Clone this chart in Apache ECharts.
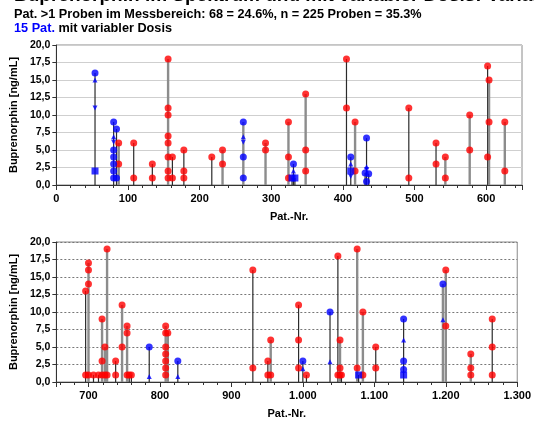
<!DOCTYPE html>
<html>
<head>
<meta charset="utf-8">
<script src="https://cdn.jsdelivr.net/npm/echarts@6/dist/echarts.min.js"></script>
<style>
  html, body { margin: 0; padding: 0; background: #fff; }
  #chart { width: 534px; height: 423px; }
</style>
</head>
<body>
<div id="chart"></div>
<script>
// upper panel: patients 0..650
const topRed = [
  [87, 6], [87, 3], [108, 6], [108, 1], [134, 3], [134, 1],
  [156, 18], [156, 11], [156, 10], [156, 7], [156, 6], [156, 4], [156, 2], [156, 1],
  [162, 4], [162, 1], [178, 5], [178, 2], [178, 1], [217, 4], [232, 5], [232, 3],
  [292, 6], [292, 5], [324, 9], [324, 4], [324, 1], [348, 13], [348, 5], [348, 2],
  [405, 18], [405, 11], [417, 9], [417, 2], [492, 11], [492, 1], [530, 6], [530, 3],
  [543, 4], [543, 1], [577, 10], [577, 5], [602, 17], [602, 4], [604, 15], [604, 9],
  [626, 9], [626, 2]
];
const topBlue = [
  [54, 16], [80, 9], [80, 5], [80, 4], [80, 3], [80, 2], [80, 1], [84, 8], [84, 1],
  [261, 9], [261, 4], [261, 1], [331, 3], [411, 4],
  [433, 6.7], [431, 1.7], [436, 1.6], [433, 0.5]
];
const topBlueUp = [[54, 15], [80, 6.9], [261, 6.9], [331, 2], [411, 3], [433, 2.6]];
const topBlueDown = [[54, 11], [80, 6.1], [261, 6.1], [411, 1.2], [433, 2.2]];
const topBlueSquare = [[54, 2], [329, 1], [333, 1], [411, 2]];
const topGrayStems = [87, 156, 232, 261, 292, 324, 348, 417, 543, 577, 604, 626];

// lower panel: patients 655..1300
const bottomRed = [
  [696, 13], [696, 1], [700, 17], [700, 16], [700, 14], [700, 1], [707, 1], [714, 1],
  [719, 9], [719, 3], [719, 1], [723, 5], [723, 1], [726, 19], [726, 1], [738, 3], [738, 1],
  [747, 11], [747, 5], [754, 8], [754, 7], [754, 1], [757, 1], [760, 1],
  [808, 8], [808, 7], [808, 5], [808, 4], [808, 3], [808, 2], [808, 1], [811, 7],
  [930, 16], [930, 2], [951, 3], [951, 1], [955, 6], [955, 1], [994, 11], [994, 6], [994, 2],
  [1005, 1], [1049, 18], [1049, 1], [1052, 6], [1052, 2], [1052, 1], [1054, 1],
  [1076, 19], [1076, 2], [1084, 10], [1084, 1], [1102, 5], [1102, 2],
  [1200, 16], [1200, 8], [1235, 4], [1235, 2], [1235, 1], [1265, 9], [1265, 5], [1265, 1]
];
const bottomBlue = [[785, 5], [825, 3], [1000, 3], [1038, 10], [1141, 9], [1141, 3], [1141, 1.8], [1196, 14]];
const bottomBlueUp = [[785, 0.8], [825, 0.8], [1000, 1.9], [1038, 2.9], [1141, 6], [1196, 8.9]];
const bottomBlueDown = [];
const bottomBlueSquare = [[1078, 1], [1141, 1]];
const bottomGrayStems = [700, 719, 723, 726, 747, 754, 808, 811, 955, 1052, 1076, 1084, 1196, 1200, 1235];

const FONT = '"Liberation Sans", Arial, sans-serif';
const RED = '#ff0000';
const BLUE = '#0000ff';

function stemsFor(groups, grayList) {
  const max = new Map();
  groups.forEach((pts) => pts.forEach(([p, v]) => {
    max.set(p, Math.max(max.get(p) || 0, v));
  }));
  return Array.from(max.entries()).map(([p, v]) => [p, v, grayList.includes(p) ? 1 : 0]);
}

function renderStem(params, api) {
  const x = api.value(0);
  const top = api.coord([x, api.value(1)]);
  const base = api.coord([x, 0]);
  const gray = api.value(2) === 1;
  return {
    type: 'line',
    shape: { x1: top[0], y1: top[1], x2: base[0], y2: base[1] },
    style: { stroke: gray ? '#8c8c8c' : '#2b2b2b', lineWidth: gray ? 2.4 : 1.2 }
  };
}

function panelSeries(idx, red, blue, up, down, square, gray) {
  return [
    {
      type: 'custom', xAxisIndex: idx, yAxisIndex: idx, renderItem: renderStem,
      encode: { x: 0, y: 1 }, data: stemsFor([red, blue, up, down, square], gray), z: 1, silent: true
    },
    { type: 'scatter', xAxisIndex: idx, yAxisIndex: idx, data: red, symbol: 'circle', symbolSize: 7, itemStyle: { color: RED }, z: 3 },
    { type: 'scatter', xAxisIndex: idx, yAxisIndex: idx, data: blue, symbol: 'circle', symbolSize: 7, itemStyle: { color: BLUE }, z: 4 },
    { type: 'scatter', xAxisIndex: idx, yAxisIndex: idx, data: up, symbol: 'triangle', symbolSize: 5, itemStyle: { color: BLUE }, z: 4 },
    { type: 'scatter', xAxisIndex: idx, yAxisIndex: idx, data: down, symbol: 'triangle', symbolRotate: 180, symbolSize: 5, itemStyle: { color: BLUE }, z: 4 },
    { type: 'scatter', xAxisIndex: idx, yAxisIndex: idx, data: square, symbol: 'rect', symbolSize: 7, itemStyle: { color: BLUE }, z: 4 }
  ];
}

const fmtY = (v) => v.toFixed(1).replace('.', ',');
const fmtX = (v) => v >= 1000 ? String(v).replace(/(\d)(\d{3})$/, '$1.$2') : String(v);

function xAxis(idx, min, max) {
  return {
    type: 'value', gridIndex: idx, min: min, max: max,
    name: 'Pat.-Nr.', nameLocation: 'middle', nameGap: 26,
    nameTextStyle: { fontFamily: FONT, fontWeight: 'bold', fontSize: 11, color: '#000' },
    axisLine: { lineStyle: { color: '#333', width: 1 } },
    axisTick: { length: 5, lineStyle: { color: '#333' } },
    minorTick: { show: true, splitNumber: 5, length: 3, lineStyle: { color: '#333' } },
    axisLabel: { fontFamily: FONT, fontWeight: 'bold', fontSize: 11, color: '#000', margin: 8,
      showMinLabel: min === 0, showMaxLabel: max === 1300, formatter: fmtX },
    splitLine: { show: false }
  };
}

function yAxis(idx, dashed) {
  return {
    type: 'value', gridIndex: idx, min: 0, max: 20, interval: 2.5,
    name: 'Buprenorphin [ng/mL]', nameLocation: 'middle', nameGap: 36,
    nameTextStyle: { fontFamily: FONT, fontWeight: 'bold', fontSize: 11, color: '#000' },
    axisLine: { show: true, lineStyle: { color: '#333' } },
    axisTick: { show: true, length: 4, lineStyle: { color: '#333' } },
    axisLabel: { fontFamily: FONT, fontWeight: 'bold', fontSize: 10.5, color: '#000', margin: 6, formatter: fmtY },
    splitLine: {
      show: true,
      lineStyle: dashed ? { color: '#777', type: [2, 2], width: 1 } : { color: '#cfcfcf', width: 1 }
    }
  };
}

const chart = echarts.init(document.getElementById('chart'), null, { renderer: 'canvas' });
chart.setOption({
  animation: false,
  backgroundColor: '#fff',
  graphic: [
    { type: 'text', x: 14, y: 5, style: { text: 'Buprenorphin im Spektrum und mit variabler Dosis: Variabilität', font: 'bold 19px ' + FONT, fill: '#000', verticalAlign: 'bottom' } },
    { type: 'text', x: 14, y: 14, style: { text: 'Pat. >1 Proben im Messbereich: 68 = 24.6%, n = 225 Proben = 35.3%', font: 'bold 12.7px ' + FONT, fill: '#000', verticalAlign: 'middle' } },
    { type: 'text', x: 14, y: 28, style: {
      text: '{b|15 Pat.} mit variabler Dosis', font: 'bold 12.7px ' + FONT, fill: '#000', verticalAlign: 'middle',
      rich: { b: { fill: BLUE, font: 'bold 12.7px ' + FONT } } } }
  ],
  grid: [
    { left: 55, right: 12, top: 45, height: 140, show: true, borderColor: '#8a8a8a', borderWidth: 1 },
    { left: 55, right: 12, top: 242, height: 140, show: true, borderColor: '#8a8a8a', borderWidth: 1 }
  ],
  xAxis: [xAxis(0, 0, 650), xAxis(1, 655, 1300)],
  yAxis: [yAxis(0, false), yAxis(1, true)],
  series: [
    ...panelSeries(0, topRed, topBlue, topBlueUp, topBlueDown, topBlueSquare, topGrayStems),
    ...panelSeries(1, bottomRed, bottomBlue, bottomBlueUp, bottomBlueDown, bottomBlueSquare, bottomGrayStems)
  ]
});
</script>
</body>
</html>
